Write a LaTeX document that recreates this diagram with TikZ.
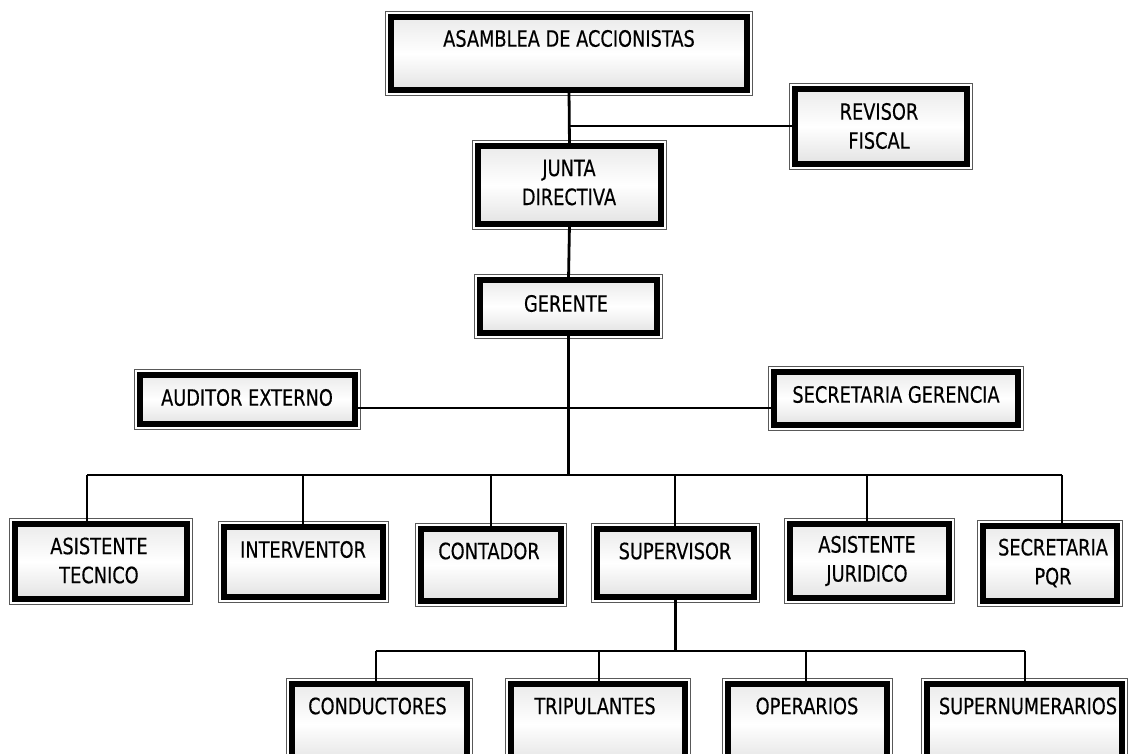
\documentclass[tikz,border=0pt]{standalone}
\usepackage{fontspec}
\newfontfamily\tah[FakeStretch=0.79,FakeBold=0.35]{DejaVu Sans}
\begin{document}
\begin{tikzpicture}[x=1pt,y=-1pt,
  ob/.style={draw=black, line width=5.5pt, outer sep=0pt, inner sep=0pt,
    top color=gray!16, bottom color=gray!22, middle color=white},
  frame/.style={draw=black!65, line width=1.3pt},
  link/.style={draw=black, line width=2.8pt},
  txt/.style={font=\tah\fontsize{22.5}{29}\selectfont, inner sep=0pt, align=center, text=black}]
\useasboundingbox (0,0) rectangle (1128,753);
\clip (0,0) rectangle (1128,753);
% boxes
\node[ob, minimum width=356, minimum height=73] (A) at (569,53.5) {};
\node[ob, minimum width=172, minimum height=75] (R) at (881,126.5) {};
\node[ob, minimum width=183, minimum height=78] (J) at (569.5,185) {};
\node[ob, minimum width=177, minimum height=53] (G) at (568.5,306.5) {};
\node[ob, minimum width=215, minimum height=49] (AU) at (247.5,399.5) {};
\node[ob, minimum width=244, minimum height=53] (SG) at (896,398.5) {};
\node[ob, minimum width=172, minimum height=75] (AT) at (101,561.5) {};
\node[ob, minimum width=159, minimum height=70] (IN) at (303.5,562) {};
\node[ob, minimum width=140, minimum height=72] (CO) at (491,565) {};
\node[ob, minimum width=157, minimum height=68] (SU) at (675.5,563) {};
\node[ob, minimum width=159, minimum height=74] (AJ) at (869.5,561) {};
\node[ob, minimum width=134, minimum height=75] (PQ) at (1050,563.5) {};
\node[ob, minimum width=175, minimum height=80] (CD) at (379.5,724) {};
\node[ob, minimum width=174, minimum height=80] (TR) at (598,724) {};
\node[ob, minimum width=159, minimum height=80] (OP) at (807.5,724) {};
\node[ob, minimum width=195, minimum height=80] (SN) at (1024.5,724) {};
\foreach \n in {A,R,J,G,AU,SG,AT,IN,CO,SU,AJ,PQ,CD,TR,OP,SN}
  \draw[frame] ([shift={(-5.5,-5.5)}]\n.north west) rectangle ([shift={(5.5,5.5)}]\n.south east);
% junction coordinates
\coordinate (h1) at (569,126);
\coordinate (h2) at (567,408);
\coordinate (bar) at (567,475);
\coordinate (b1) at (87,475);
\coordinate (b2) at (303,475);
\coordinate (b3) at (491,475);
\coordinate (b4) at (675,475);
\coordinate (b5) at (867,475);
\coordinate (b6) at (1062,475);
\coordinate (sub) at (675,651);
\coordinate (s1) at (376,651);
\coordinate (s2) at (599,651);
\coordinate (s3) at (806,651);
\coordinate (s4) at (1025,651);
% connectors
\draw[link] (A.south) -- (J.north);
\draw[link] (h1) -- (R.west |- h1);
\draw[link] (J.south) -- (G.north);
\draw[link] (G.south) -- (G.south |- bar);
\draw[link] (AU.east |- h2) -- (SG.west |- h2);
\draw[link] (b1) -- (b6);
\foreach \b/\n in {b1/AT,b2/IN,b3/CO,b4/SU,b5/AJ,b6/PQ}
  \draw[link] (\b) -- (\b |- \n.north);
\draw[link] (SU.south) -- (SU.south |- sub);
\draw[link] (s1) -- (s4);
\foreach \s/\n in {s1/CD,s2/TR,s3/OP,s4/SN}
  \draw[link] (\s) -- (\s |- \n.north);
% texts
\node[txt] (tA) at (569,38.5) {ASAMBLEA DE ACCIONISTAS};
\node[txt] (tR) at (879,126) {REVISOR\\FISCAL};
\node[txt] (tJ) at (569,182.5) {JUNTA\\DIRECTIVA};
\node[txt] (tG) at (566,303.5) {GERENTE};
\node[txt] (tAU) at (247,397.5) {AUDITOR EXTERNO};
\node[txt] (tSG) at (896,394.5) {SECRETARIA GERENCIA};
\node[txt] (tAT) at (99,560.5) {ASISTENTE\\TECNICO};
\node[txt] (tIN) at (303,549.5) {INTERVENTOR};
\node[txt] (tCO) at (489,551) {CONTADOR};
\node[txt] (tSU) at (675,551) {SUPERVISOR};
\node[txt] (tAJ) at (867,561) {ASISTENTE\\JURIDICO};
\node[txt] (tPQ) at (1053,563) {SECRETARIA\\PQR};
\node[txt] (tCD) at (377.5,706) {CONDUCTORES};
\node[txt] (tTR) at (595,706) {TRIPULANTES};
\node[txt] (tOP) at (807,706) {OPERARIOS};
\node[txt] (tSN) at (1028,706) {SUPERNUMERARIOS};
\end{tikzpicture}
\end{document}
